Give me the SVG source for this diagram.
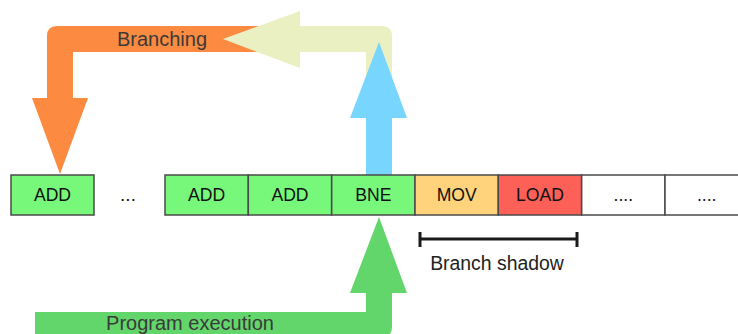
<svg xmlns="http://www.w3.org/2000/svg" width="738" height="334" viewBox="0 0 738 334">
<style>
  .box{stroke:#4a4a4a;stroke-width:1.5}
  .g{fill:#78F87A}
  .lbl{font-family:"Liberation Sans",Arial,sans-serif;font-size:17.6px;fill:#111;text-anchor:middle}
  .alb{font-family:"Liberation Sans",Arial,sans-serif;font-size:20px;fill:#3a3a3a;text-anchor:middle}
</style>
<rect width="738" height="334" fill="#fff"/>
<g id="connectors">
  <path id="branch-orange" d="M260 26 L57 26 Q47 26 47 36 L47 98 L32 98 L60 174 L88 98 L73 98 L73 52 L260 52 Z" fill="#FC8A40"/>
  <path id="branch-yellow" d="M223 39 L300 11 L300 26 L382 26 Q392 26 392 36 L392 120 L366 120 L366 52 L300 52 L300 68 Z" fill="#EBF0C3"/>
  <path id="branch-blue" d="M379 42 L407 118 L392 118 L392 176 L366 176 L366 118 L350 118 Z" fill="#77D5FE"/>
  <path id="exec-green" d="M379 217 L407 293 L392 293 L392 327 Q392 337 382 337 L35 337 L35 312 L366 312 L366 293 L350 293 Z" fill="#63D66B"/>
  <text class="alb" x="162" y="46">Branching</text>
  <text class="alb" x="190" y="330">Program execution</text>
</g>
<g id="n-add0"><rect class="box g" x="11" y="175" width="83" height="40"/><text class="lbl" x="52.5" y="201">ADD</text></g>
<g id="n-gap"><text class="lbl" x="128" y="201" style="font-size:19px">...</text></g>
<g id="n-add1"><rect class="box g" x="165" y="175" width="83.3" height="40"/><text class="lbl" x="206.7" y="201">ADD</text></g>
<g id="n-add2"><rect class="box g" x="248.3" y="175" width="83.3" height="40"/><text class="lbl" x="290" y="201">ADD</text></g>
<g id="n-bne"><rect class="box g" x="331.7" y="175" width="83.3" height="40"/><text class="lbl" x="373.3" y="201">BNE</text></g>
<g id="n-mov"><rect class="box" x="415" y="175" width="83.3" height="40" fill="#FED37B"/><text class="lbl" x="456.7" y="201">MOV</text></g>
<g id="n-load"><rect class="box" x="498.3" y="175" width="83.3" height="40" fill="#FD6057"/><text class="lbl" x="540" y="201">LOAD</text></g>
<g id="n-e1"><rect class="box" x="581.7" y="175" width="83.3" height="40" fill="#fff"/><text class="lbl" x="623.3" y="201">....</text></g>
<g id="n-e2"><rect class="box" x="665" y="175" width="83.3" height="40" fill="#fff"/><text class="lbl" x="706.7" y="201">....</text></g>
<g id="shadow">
  <path d="M420 239 H577 M420 232 V247 M577 232 V247" stroke="#1a1a1a" stroke-width="3" fill="none"/>
  <text class="alb" x="497" y="270" style="font-size:19.4px;fill:#222">Branch shadow</text>
</g>
</svg>
